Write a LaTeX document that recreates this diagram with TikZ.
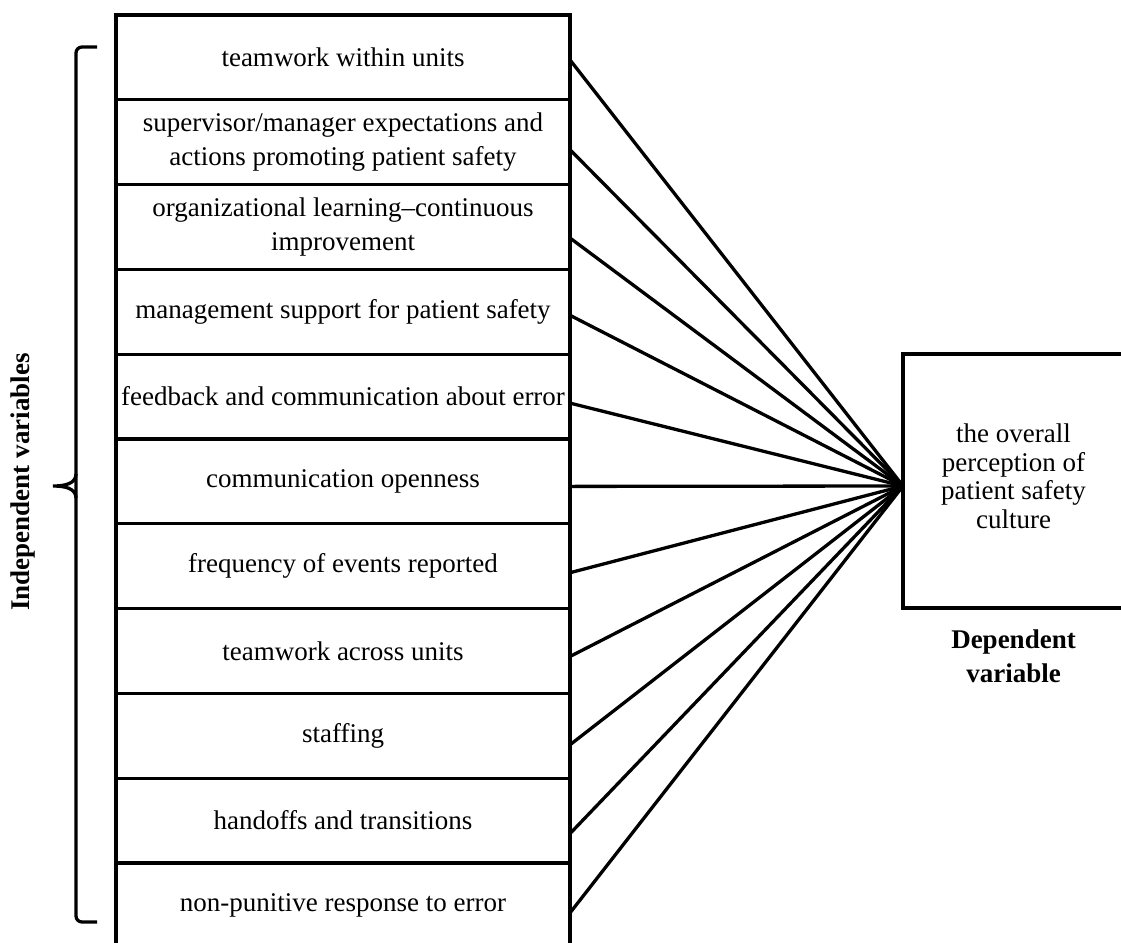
\documentclass[tikz,border=0pt]{standalone}
\usepackage{fontspec}
\setmainfont{Liberation Serif}
\usetikzlibrary{positioning}
\tikzstyle{indepbox}=[draw, line width=3.3pt, outer sep=0pt, minimum width=454pt,
    minimum height=84.8pt, align=center, font=\fontsize{27}{34}\selectfont]
\tikzstyle{depbox}=[draw, line width=3.3pt, outer sep=0pt, minimum width=221pt,
    minimum height=254pt, align=center, font=\fontsize{27}{28.5}\selectfont]
\tikzstyle{vlabel}=[align=center, inner sep=0pt,
    font=\fontsize{27}{34}\selectfont\bfseries]
\tikzstyle{spoke}=[line width=3.3pt]

\begin{document}
\begin{tikzpicture}[x=1pt,y=-1pt]
    \useasboundingbox (0,0) rectangle (1121,942);
    \clip (0,0) rectangle (1121,942);
    \node (v1) [indepbox, anchor=north west] at (116,15) {teamwork within units};
    \node (v2) [indepbox, below=0pt of v1] {supervisor/manager expectations and\\
      actions promoting patient safety};
    \node (v3) [indepbox, below=0pt of v2] {organizational learning--continuous\\
      improvement};
    \node (v4) [indepbox, below=0pt of v3] {management support for patient safety};
    \node (v5) [indepbox, below=0pt of v4] {feedback and communication about error};
    \node (v6) [indepbox, below=0pt of v5] {communication openness};
    \node (v7) [indepbox, below=0pt of v6] {frequency of events reported};
    \node (v8) [indepbox, below=0pt of v7] {teamwork across units};
    \node (v9) [indepbox, below=0pt of v8] {staffing};
    \node (v10) [indepbox, below=0pt of v9] {handoffs and transitions};
    \node (v11) [indepbox, below=0pt of v10] {non-punitive response to error};
    \node (dep) [depbox, text depth=10pt, anchor=north west] at (903,354)
      {the overall\\perception of\\patient safety\\culture};
    \node (deplabel) [vlabel, below=22pt of dep] {Dependent\\variable};
    \coordinate (hub) at (903,486);
    \foreach \i/\o in {1/2.5,2/7.5,3/11,4/3.5,5/6.5,6/5,7/6.5,8/5.5,9/9,10/13,11/7.5}
      \draw [spoke] ([yshift=-\o pt]v\i.east) -- (hub);
    \draw [spoke, rounded corners=6pt] (97,47) -- (76,47) -- (76,922) -- (97,922);
    \draw [spoke] (76,474) .. controls (76,484) and (64,486) .. (53,486)
      .. controls (64,486) and (76,488) .. (76,498);
    \node (indep) [vlabel, rotate=90] at (23,482) {Independent variables};
\end{tikzpicture}
\end{document}
